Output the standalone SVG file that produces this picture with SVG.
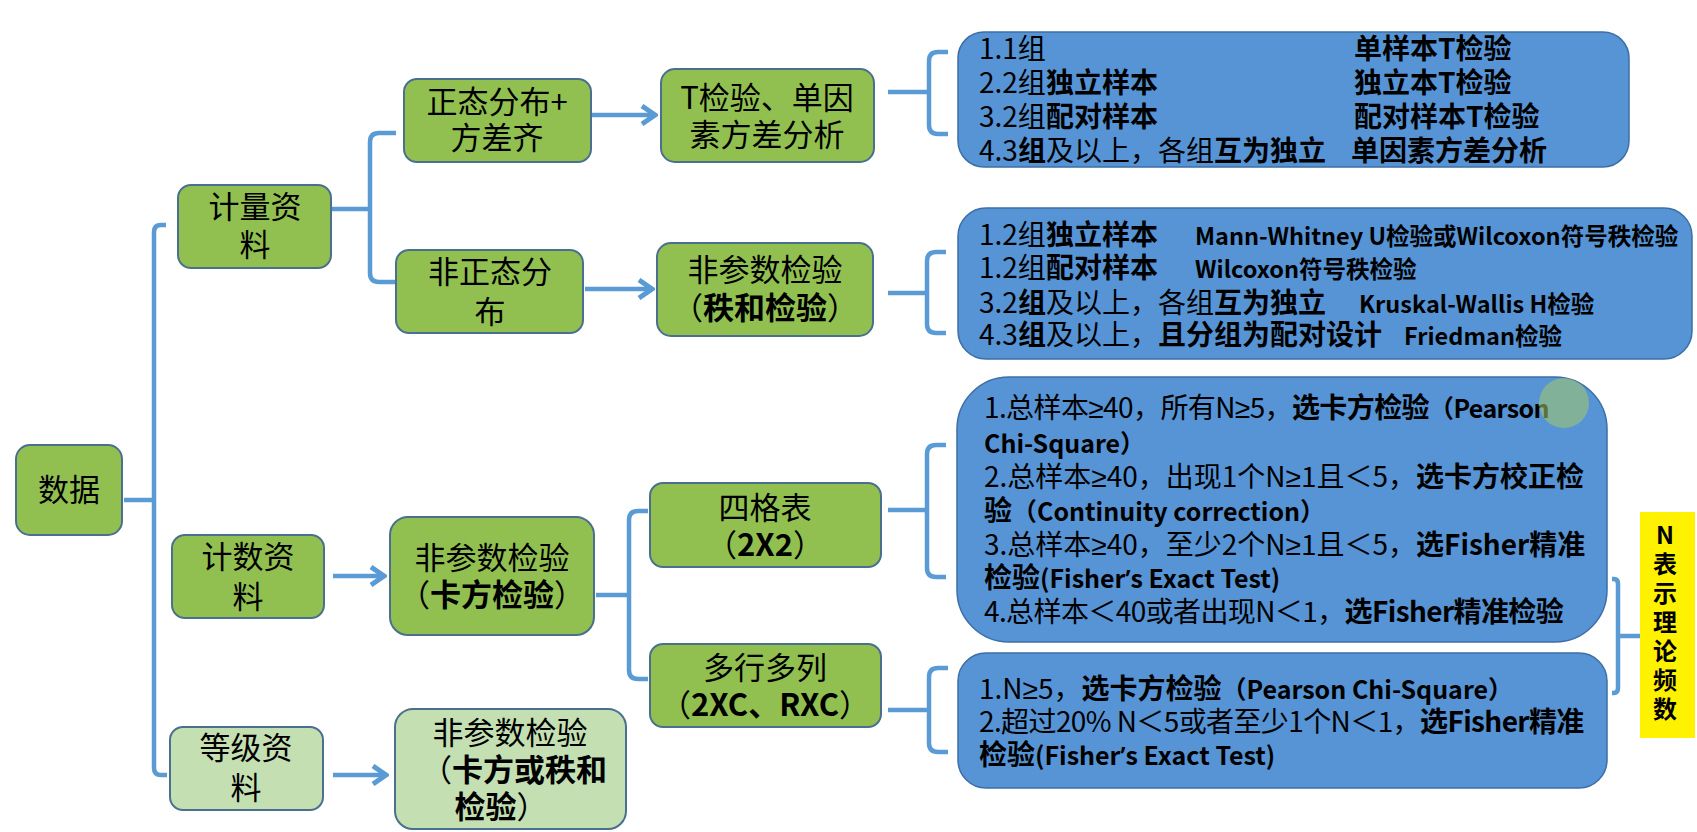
<svg xmlns="http://www.w3.org/2000/svg" width="1697" height="832" viewBox="0 0 1697 832">
<style>
text{font-family:"Noto Sans CJK SC","Noto Sans",sans-serif;fill:#000}
.l{font-family:"Noto Sans","Liberation Sans",sans-serif}
.g rect{fill:#92c050;stroke:#4b6f8e;stroke-width:2}
.lg rect{fill:#c4dfb2;stroke:#4b6f8e;stroke-width:2}
.bl rect{fill:#5694d6;stroke:#3d6fa6;stroke-width:1.5}
.nt{font-size:31px;text-anchor:middle}
.bt{font-size:28px}
.sm{font-size:23.5px;font-weight:600}
.b{font-weight:bold}
.s{font-weight:600;font-size:25px}
.tight{letter-spacing:-0.6px}
.conn path{fill:none;stroke:#5b9bd5;stroke-width:4.5}
.yt{font-size:24px;font-weight:bold;text-anchor:middle}
</style>
<defs>
<marker id="arr" markerUnits="userSpaceOnUse" viewBox="0 0 18 22" refX="14" refY="11" markerWidth="18" markerHeight="22" orient="auto">
<path d="M2,2 L15,11 L2,20" fill="none" stroke="#5b9bd5" stroke-width="5" stroke-linejoin="miter"/>
</marker>
</defs>
<rect width="1697" height="832" fill="#fff"/>

<g class="conn" id="connectors">
<path d="M124,500 H154"/>
<path d="M166,225 H161 Q154,225 154,232 V768 Q154,775 161,775 H167"/>
<path d="M331,209 H370"/>
<path d="M396,133 H379 Q370,133 370,142 V273 Q370,282 379,282 H396"/>
<path d="M592,115 H654" marker-end="url(#arr)"/>
<path d="M585,289 H651" marker-end="url(#arr)"/>
<path d="M888,92 H929"/>
<path d="M948,52 H938 Q929,52 929,61 V125 Q929,134 938,134 H948"/>
<path d="M888,293 H927"/>
<path d="M946,252 H936 Q927,252 927,261 V324 Q927,333 936,333 H946"/>
<path d="M333,576 H383" marker-end="url(#arr)"/>
<path d="M596,595 H629"/>
<path d="M648,511 H638 Q629,511 629,520 V670 Q629,679 638,679 H648"/>
<path d="M888,510 H927"/>
<path d="M946,445 H936 Q927,445 927,454 V568 Q927,577 936,577 H946"/>
<path d="M888,710 H929"/>
<path d="M948,668 H938 Q929,668 929,677 V743 Q929,752 938,752 H948"/>
<path d="M333,775 H385" marker-end="url(#arr)"/>
<path d="M1612,579 H1614 Q1618,579 1618,584 V688 Q1618,693 1614,693 H1612"/>
<path d="M1618,636 H1640"/>
</g>

<g id="n-data" class="g"><rect x="16" y="445" width="106" height="90" rx="14"/><text class="nt" x="69" y="501">数据</text></g>
<g id="n-jiliang" class="g"><rect x="178" y="185" width="153" height="83" rx="13"/><text class="nt" x="255" y="218">计量资</text><text class="nt" x="255" y="256">料</text></g>
<g id="n-zhengtai" class="g"><rect x="404" y="79" width="187" height="83" rx="13"/><text class="nt" x="497" y="113">正态分布+</text><text class="nt" x="497" y="149">方差齐</text></g>
<g id="n-tjianyan" class="g"><rect x="661" y="69" width="213" height="93" rx="14"/><text class="nt" x="767" y="109">T检验、单因</text><text class="nt" x="767" y="146">素方差分析</text></g>
<g id="n-feizhengtai" class="g"><rect x="396" y="250" width="187" height="83" rx="13"/><text class="nt" x="490" y="283">非正态分</text><text class="nt" x="490" y="323">布</text></g>
<g id="n-zhihe" class="g"><rect x="657" y="243" width="216" height="93" rx="14"/><text class="nt" x="765" y="281">非参数检验</text><text class="nt" x="765" y="319">（<tspan class="b">秩和检验</tspan>）</text></g>
<g id="n-jishu" class="g"><rect x="172" y="535" width="152" height="83" rx="13"/><text class="nt" x="248" y="568">计数资</text><text class="nt" x="248" y="608">料</text></g>
<g id="n-kafang" class="g"><rect x="390" y="517" width="204" height="118" rx="18"/><text class="nt" x="492" y="569">非参数检验</text><text class="nt" x="492" y="606">（<tspan class="b">卡方检验</tspan>）</text></g>
<g id="n-sige" class="g"><rect x="650" y="483" width="231" height="84" rx="13"/><text class="nt" x="765" y="519">四格表</text><text class="nt" x="765" y="556">（<tspan class="b">2X2</tspan>）</text></g>
<g id="n-duohang" class="g"><rect x="650" y="644" width="231" height="83" rx="13"/><text class="nt" x="765" y="679">多行多列</text><text class="nt" x="765" y="716">（<tspan class="b">2XC、RXC</tspan>）</text></g>
<g id="n-dengji" class="lg"><rect x="170" y="727" width="153" height="83" rx="13"/><text class="nt" x="246" y="759">等级资</text><text class="nt" x="246" y="799">料</text></g>
<g id="n-kafanghuo" class="lg"><rect x="395" y="709" width="231" height="120" rx="18"/><text class="nt" x="510" y="744">非参数检验</text><text class="nt" x="514" y="781">（<tspan class="b">卡方或秩和</tspan></text><text class="nt" x="501" y="818"><tspan class="b">检验</tspan>）</text></g>

<g id="box-t" class="bl"><rect x="958" y="32" width="671" height="135" rx="26"/>
<text class="bt" x="979" y="59">1.1组</text>
<text class="bt" x="979" y="93">2.2组<tspan class="b">独立样本</tspan></text>
<text class="bt" x="979" y="127">3.2组<tspan class="b">配对样本</tspan></text>
<text class="bt" x="979" y="161">4.3<tspan class="b">组</tspan>及以上，各组<tspan class="b">互为独立</tspan></text>
<text class="bt b" x="1354" y="59">单样本T检验</text>
<text class="bt b" x="1354" y="93">独立本T检验</text>
<text class="bt b" x="1354" y="127">配对样本T检验</text>
<text class="bt b" x="1351" y="161">单因素方差分析</text>
</g>

<g id="box-rank" class="bl"><rect x="958" y="208" width="734" height="151" rx="28"/>
<text class="bt" x="979" y="245">1.2组<tspan class="b">独立样本</tspan></text>
<text class="sm" x="1195" y="245">Mann-Whitney U检验或Wilcoxon符号秩检验</text>
<text class="bt" x="979" y="278">1.2组<tspan class="b">配对样本</tspan></text>
<text class="sm" x="1195" y="278">Wilcoxon符号秩检验</text>
<text class="bt" x="979" y="313">3.2<tspan class="b">组</tspan>及以上，各组<tspan class="b">互为独立</tspan></text>
<text class="sm" x="1359" y="313">Kruskal-Wallis H检验</text>
<text class="bt" x="979" y="345">4.3<tspan class="b">组</tspan>及以上，<tspan class="b">且分组为配对设计</tspan></text>
<text class="sm" x="1404" y="345">Friedman检验</text>
</g>

<g id="box-2x2" class="bl"><rect x="957" y="377" width="650" height="265" rx="52"/>
<text class="bt tight" x="984" y="418">1.总样本<tspan class="l">≥</tspan>40，所有N<tspan class="l">≥</tspan>5，<tspan class="b">选卡方检验</tspan><tspan class="s">（Pearson</tspan></text>
<text class="bt s" x="984" y="453">Chi-Square）</text>
<text class="bt" x="984" y="487">2.总样本<tspan class="l">≥</tspan>40，出现1个N<tspan class="l">≥</tspan>1且＜5，<tspan class="b">选卡方校正检</tspan></text>
<text class="bt" x="984" y="521"><tspan class="b">验</tspan><tspan class="s">（Continuity correction）</tspan></text>
<text class="bt" x="984" y="555">3.总样本<tspan class="l">≥</tspan>40，至少2个N<tspan class="l">≥</tspan>1且＜5，<tspan class="b">选Fisher精准</tspan></text>
<text class="bt" x="984" y="588"><tspan class="b">检验</tspan><tspan class="s">(Fisher<tspan class="l">’</tspan>s Exact Test)</tspan></text>
<text class="bt tight" x="984" y="622">4.总样本＜40或者出现N＜1，<tspan class="b">选Fisher精准检验</tspan></text>
</g>
<circle cx="1564" cy="403" r="25" fill="#a8c86a" opacity="0.55"/>

<g id="box-rxc" class="bl"><rect x="958" y="653" width="649" height="135" rx="28"/>
<text class="bt" x="979" y="699">1.N<tspan class="l">≥</tspan>5，<tspan class="b">选卡方检验</tspan><tspan class="s">（Pearson Chi-Square）</tspan></text>
<text class="bt tight" x="979" y="732">2.超过20% N＜5或者至少1个N＜1，<tspan class="b">选Fisher精准</tspan></text>
<text class="bt" x="979" y="765"><tspan class="b">检验</tspan><tspan class="s">(Fisher<tspan class="l">’</tspan>s Exact Test)</tspan></text>
</g>

<g id="note-n"><rect x="1640" y="512" width="55" height="226" fill="#fff200"/>
<text class="yt" x="1665" y="544">N</text>
<text class="yt" x="1665" y="573">表</text>
<text class="yt" x="1665" y="602">示</text>
<text class="yt" x="1665" y="631">理</text>
<text class="yt" x="1665" y="660">论</text>
<text class="yt" x="1665" y="689">频</text>
<text class="yt" x="1665" y="718">数</text>
</g>
</svg>
